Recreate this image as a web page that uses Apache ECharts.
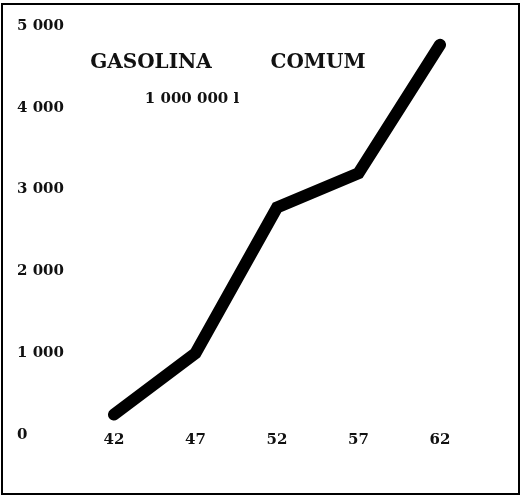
<!DOCTYPE html>
<html>
<head>
<meta charset="utf-8">
<script src="https://cdn.jsdelivr.net/npm/echarts@6/dist/echarts.min.js"></script>
<style>
html,body{margin:0;padding:0;background:#fff;}
#chart{width:521px;height:498px;}
</style>
</head>
<body>
<div id="chart"></div>
<script>
const years = ['42', '47', '52', '57', '62'];
const consumption = [250, 1000, 2780, 3200, 4770];
const yTicks = [0, 1000, 2000, 3000, 4000, 5000];

const FONT = 'DejaVu Serif';
const chart = echarts.init(document.getElementById('chart'));
chart.setOption({
  backgroundColor: '#fff',
  animation: false,
  grid: { left: 114, right: 81, top: 26, bottom: 63 },
  xAxis: {
    type: 'category',
    data: years,
    boundaryGap: false,
    axisLine: { show: false },
    axisTick: { show: false },
    splitLine: { show: false },
    axisLabel: { color: '#111', fontFamily: FONT, fontWeight: 'bold', fontSize: 15, margin: -2 }
  },
  yAxis: {
    type: 'value',
    min: 0, max: 5000, interval: 1000,
    axisLine: { show: false },
    axisTick: { show: false },
    splitLine: { show: false },
    axisLabel: {
      color: '#111', fontFamily: FONT, fontWeight: 'bold', fontSize: 15,
      align: 'left', margin: 97,
      formatter: v => yTicks.includes(v) ? (v === 0 ? '0' : String(v).replace(/\B(?=(\d{3})+(?!\d))/g, ' ')) : ''
    }
  },
  series: [{
    type: 'line',
    data: consumption,
    showSymbol: false,
    lineStyle: { color: '#000', width: 12, cap: 'round', join: 'miter' }
  }],
  graphic: [
    { type: 'rect', shape: { x: 2, y: 4, width: 517, height: 490 },
      style: { fill: 'none', stroke: '#000', lineWidth: 2 } },
    { type: 'text', x: 151, y: 63, style: { text: 'GASOLINA', font: 'bold 20px "DejaVu Serif"', fill: '#111', align: 'center', verticalAlign: 'middle' } },
    { type: 'text', x: 318, y: 63, style: { text: 'COMUM', font: 'bold 20px "DejaVu Serif"', fill: '#111', align: 'center', verticalAlign: 'middle' } },
    { type: 'text', x: 192, y: 99, style: { text: '1 000 000 l', font: 'bold 15px "DejaVu Serif"', fill: '#111', align: 'center', verticalAlign: 'middle' } }
  ]
});
</script>
</body>
</html>
